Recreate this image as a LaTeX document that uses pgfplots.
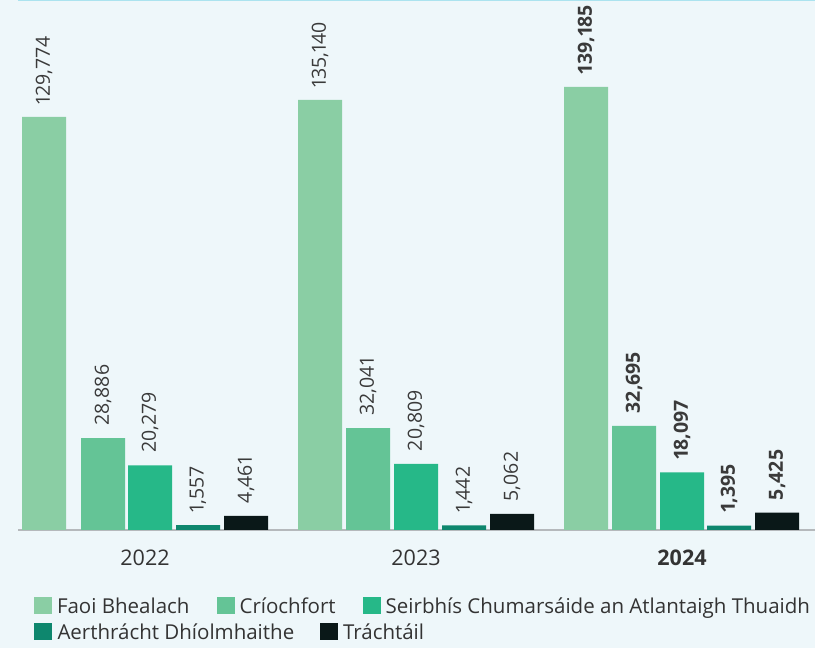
\documentclass[border=0pt]{standalone}
\usepackage{pgfplots}
\pgfplotsset{compat=1.18}
\usepackage{pgfplotstable}
\usepackage{fontspec}
\setmainfont{Open Sans}[Numbers=Proportional]
\definecolor{bgc}{HTML}{EEF7FA}
\definecolor{c1}{HTML}{8ACEA4}
\definecolor{c2}{HTML}{64C496}
\definecolor{c3}{HTML}{26B888}
\definecolor{c4}{HTML}{0E876E}
\definecolor{c5}{HTML}{0A1818}
\definecolor{txt}{HTML}{333333}
\definecolor{lab}{HTML}{3A3A3A}
\definecolor{axisc}{HTML}{B5B9BC}
\definecolor{topc}{HTML}{ABE3EF}
\newcommand\B{\bfseries}

\pgfplotstableread{
year x1 y1 l1 x2 y2 l2 x3 y3 l3 x4 y4 l4 x5 y5 l5
2022 44 129774 129,774 103 28886 28,886 150 20279 20,279 198 1557 1,557 246 4461 4,461
2023 320 135140 135,140 368 32041 32,041 416 20809 20,809 464 1442 1,442 512 5062 5,062
2024 586 139185 \B139,185 634 32695 \B32,695 682 18097 \B18,097 729 1395 \B1,395 777 5425 \B5,425
}\data

\begin{document}
\begin{tikzpicture}
\fill[bgc] (0pt,-118pt) rectangle (815pt,530pt);
\path[use as bounding box] (0pt,-118pt) rectangle (815pt,530pt);
\begin{axis}[
  at={(18pt,0pt)}, anchor=south west,
  scale only axis, width=797pt, height=530pt,
  xmin=18, xmax=815, ymin=0, ymax=166510,
  axis x line*=bottom, axis y line=none,
  x axis line style={-, draw=axisc, line width=1.5pt},
  ytick=\empty,
  xtick={145,416,682}, xticklabels={2022,2023,\textbf{2024}},
  major tick length=0pt,
  xticklabel style={anchor=base, inner sep=0pt, yshift=-36pt, font=\fontsize{21.5}{24}\selectfont, text=txt},
  clip=false,
  point meta=explicit symbolic,
  nodes near coords,
  every node near coord/.append style={rotate=90, anchor=west, inner ysep=0pt, inner xsep=12.5pt, font=\fontsize{19.5}{24}\selectfont, text=lab},
  legend columns=3,
  legend cell align=left,
  legend style={at={(axis description cs:0.020075,-0.12642)}, anchor=north west,
    draw=none, fill=none, inner sep=0pt, outer sep=0pt, row sep=6pt,
    font=\fontsize{20.5}{24}\selectfont, text=txt,
    cells={anchor=base west},
    nodes={inner sep=0pt, text height=14pt, text depth=4pt},
    /tikz/every odd column/.append style={column sep=5pt},
    /tikz/every even column/.append style={column sep=27pt}},
]
\addplot[ybar, bar width=44, fill=c1, draw=none,
  legend image code/.code={\fill[c1] (0pt,-1pt) rectangle (18pt,16pt);}]
  table[x=x1,y=y1,meta=l1]{\data};
\addlegendentry{Faoi Bhealach}
\addplot[ybar, bar width=44, fill=c2, draw=none,
  legend image code/.code={\fill[c2] (0pt,-1pt) rectangle (18pt,16pt);}]
  table[x=x2,y=y2,meta=l2]{\data};
\addlegendentry{Críochfort}
\addplot[ybar, bar width=44, fill=c3, draw=none,
  legend image code/.code={\fill[c3] (0pt,-1pt) rectangle (18pt,16pt);}]
  table[x=x3,y=y3,meta=l3]{\data};
\addlegendentry{Seirbhís Chumarsáide an Atlantaigh Thuaidh}
\addplot[ybar, bar width=44, fill=c4, draw=none,
  legend image code/.code={\fill[c4] (0pt,-1pt) rectangle (18pt,16pt);}]
  table[x=x4,y=y4,meta=l4]{\data};
\addlegendentry{\rlap{Aerthrácht Dhíolmhaithe}}
\addplot[ybar, bar width=44, fill=c5, draw=none,
  legend image code/.code={\path[draw=none,fill=none] (0pt,-1pt) rectangle (18pt,16pt); \fill[c5,overlay] (103pt,-1pt) rectangle (121pt,16pt);}]
  table[x=x5,y=y5,meta=l5]{\data};
\addlegendentry{\rlap{\hspace*{103pt}Tráchtáil}}
\end{axis}
\draw[topc, line width=1pt] (18pt,529.5pt) -- (815pt,529.5pt);
\end{tikzpicture}
\end{document}
